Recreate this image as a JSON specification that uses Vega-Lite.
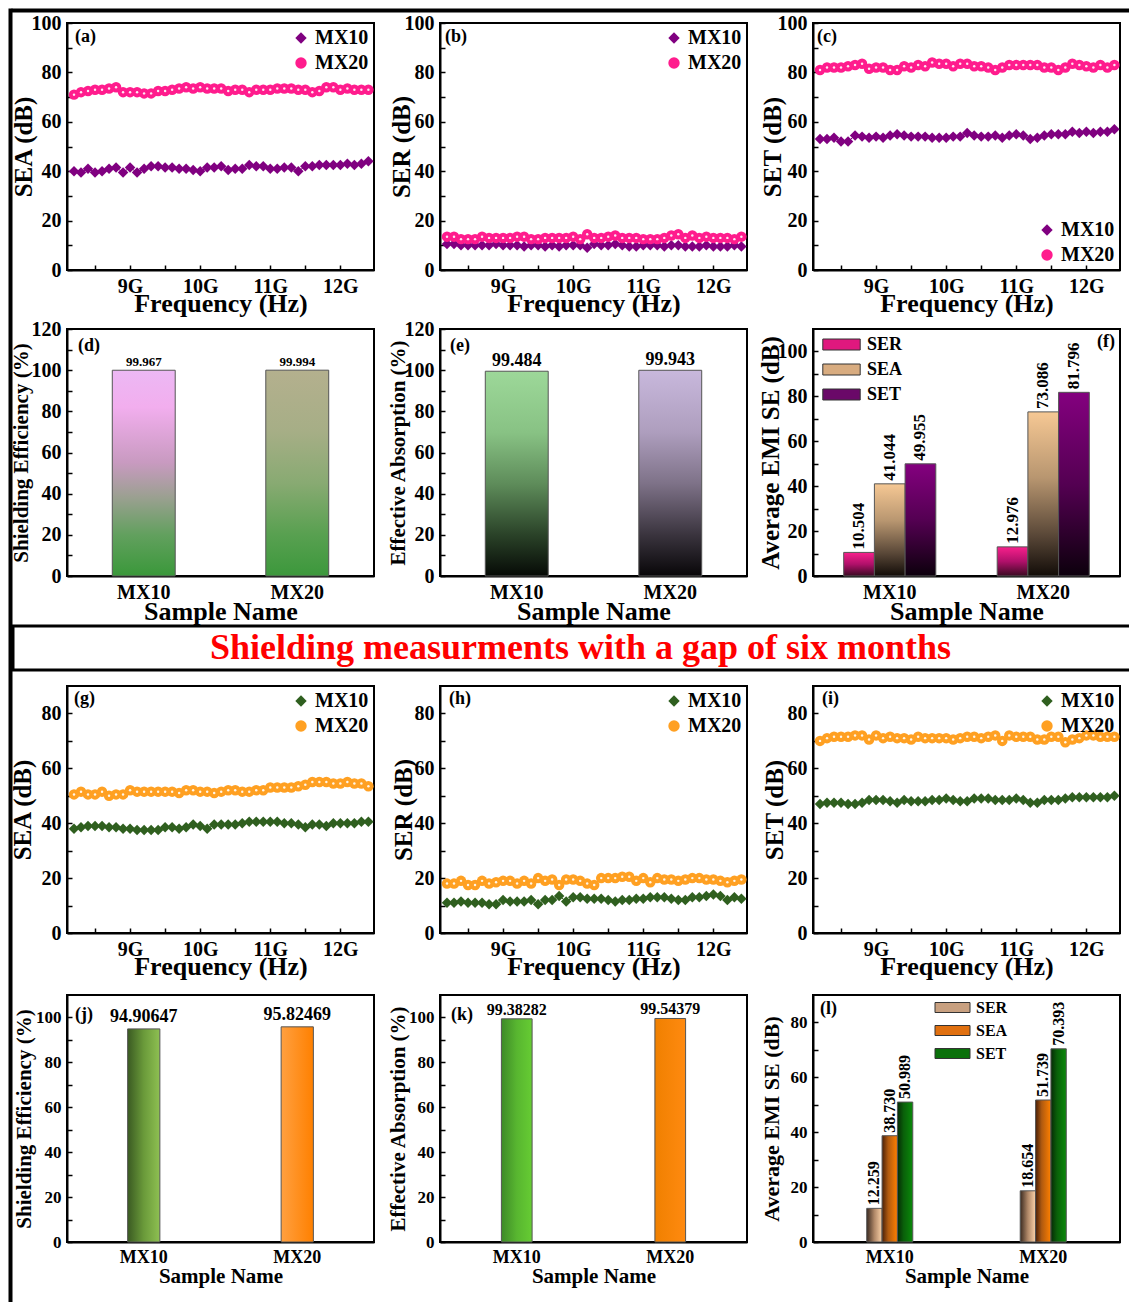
{
"$schema":"https://vega.github.io/schema/vega-lite/v6.json",
"background":"white",
"padding":{"left":8,"top":3,"right":0,"bottom":0},
"config":{
 "font":"Liberation Serif",
 "view":{"stroke":"black","strokeWidth":2},
 "axis":{"labelFont":"Liberation Serif","titleFont":"Liberation Serif","labelFontWeight":"bold","titleFontWeight":"bold","labelColor":"black","titleColor":"black","domainColor":"black","domainWidth":2,"tickColor":"black","tickWidth":1.5,"tickSize":-5,"labelPadding":11,"grid":false,"labelOverlap":false,"labelFlush":false},
 "legend":{"labelFont":"Liberation Serif","labelFontWeight":"bold","labelColor":"black","labelFontSize":20,"symbolSize":130,"rowPadding":5,"padding":2,"offset":3,"symbolStrokeWidth":0},
 "title":{"font":"Liberation Serif","fontSize":18,"fontWeight":"bold","color":"black","anchor":"start","frame":"group"},
 "text":{"font":"Liberation Serif","fontWeight":"bold","color":"black"}
},
"datasets":{
"a":[{"f":8.2,"s":"MX10","v":40},{"f":8.3,"s":"MX10","v":39.5},{"f":8.4,"s":"MX10","v":41},{"f":8.5,"s":"MX10","v":39.5},{"f":8.6,"s":"MX10","v":40},{"f":8.7,"s":"MX10","v":41},{"f":8.8,"s":"MX10","v":41.5},{"f":8.9,"s":"MX10","v":39.5},{"f":9,"s":"MX10","v":41.5},{"f":9.1,"s":"MX10","v":39.5},{"f":9.2,"s":"MX10","v":41},{"f":9.3,"s":"MX10","v":42},{"f":9.4,"s":"MX10","v":42},{"f":9.5,"s":"MX10","v":41.5},{"f":9.6,"s":"MX10","v":41.5},{"f":9.7,"s":"MX10","v":41},{"f":9.8,"s":"MX10","v":41},{"f":9.9,"s":"MX10","v":40.5},{"f":10,"s":"MX10","v":40},{"f":10.1,"s":"MX10","v":41.5},{"f":10.2,"s":"MX10","v":41.5},{"f":10.3,"s":"MX10","v":42},{"f":10.4,"s":"MX10","v":40.5},{"f":10.5,"s":"MX10","v":41},{"f":10.6,"s":"MX10","v":41},{"f":10.7,"s":"MX10","v":42.5},{"f":10.8,"s":"MX10","v":42},{"f":10.9,"s":"MX10","v":42},{"f":11,"s":"MX10","v":41},{"f":11.1,"s":"MX10","v":41},{"f":11.2,"s":"MX10","v":41.5},{"f":11.3,"s":"MX10","v":41.5},{"f":11.4,"s":"MX10","v":40},{"f":11.5,"s":"MX10","v":42},{"f":11.6,"s":"MX10","v":42},{"f":11.7,"s":"MX10","v":42.5},{"f":11.8,"s":"MX10","v":42.5},{"f":11.9,"s":"MX10","v":42.5},{"f":12,"s":"MX10","v":42.5},{"f":12.1,"s":"MX10","v":43},{"f":12.2,"s":"MX10","v":42.5},{"f":12.3,"s":"MX10","v":43},{"f":12.4,"s":"MX10","v":44},
{"f":8.2,"s":"MX20","v":71},{"f":8.3,"s":"MX20","v":72},{"f":8.4,"s":"MX20","v":72.5},{"f":8.5,"s":"MX20","v":73},{"f":8.6,"s":"MX20","v":73},{"f":8.7,"s":"MX20","v":73.5},{"f":8.8,"s":"MX20","v":74},{"f":8.9,"s":"MX20","v":72},{"f":9,"s":"MX20","v":72},{"f":9.1,"s":"MX20","v":72},{"f":9.2,"s":"MX20","v":71.5},{"f":9.3,"s":"MX20","v":71.5},{"f":9.4,"s":"MX20","v":72.5},{"f":9.5,"s":"MX20","v":72.5},{"f":9.6,"s":"MX20","v":73},{"f":9.7,"s":"MX20","v":73.5},{"f":9.8,"s":"MX20","v":74},{"f":9.9,"s":"MX20","v":73.5},{"f":10,"s":"MX20","v":74},{"f":10.1,"s":"MX20","v":73.5},{"f":10.2,"s":"MX20","v":73.5},{"f":10.3,"s":"MX20","v":73.5},{"f":10.4,"s":"MX20","v":72.5},{"f":10.5,"s":"MX20","v":73},{"f":10.6,"s":"MX20","v":73},{"f":10.7,"s":"MX20","v":72},{"f":10.8,"s":"MX20","v":73},{"f":10.9,"s":"MX20","v":73},{"f":11,"s":"MX20","v":73},{"f":11.1,"s":"MX20","v":73.5},{"f":11.2,"s":"MX20","v":73.5},{"f":11.3,"s":"MX20","v":73.5},{"f":11.4,"s":"MX20","v":73},{"f":11.5,"s":"MX20","v":73},{"f":11.6,"s":"MX20","v":72},{"f":11.7,"s":"MX20","v":72.5},{"f":11.8,"s":"MX20","v":74},{"f":11.9,"s":"MX20","v":74},{"f":12,"s":"MX20","v":73},{"f":12.1,"s":"MX20","v":73.5},{"f":12.2,"s":"MX20","v":73},{"f":12.3,"s":"MX20","v":73},{"f":12.4,"s":"MX20","v":73}],
"b":[{"f":8.2,"s":"MX10","v":10.5},{"f":8.3,"s":"MX10","v":10.5},{"f":8.4,"s":"MX10","v":10},{"f":8.5,"s":"MX10","v":10},{"f":8.6,"s":"MX10","v":10},{"f":8.7,"s":"MX10","v":10},{"f":8.8,"s":"MX10","v":10},{"f":8.9,"s":"MX10","v":10.5},{"f":9,"s":"MX10","v":10},{"f":9.1,"s":"MX10","v":10},{"f":9.2,"s":"MX10","v":10},{"f":9.3,"s":"MX10","v":9.5},{"f":9.4,"s":"MX10","v":10},{"f":9.5,"s":"MX10","v":10},{"f":9.6,"s":"MX10","v":9.5},{"f":9.7,"s":"MX10","v":10},{"f":9.8,"s":"MX10","v":9.5},{"f":9.9,"s":"MX10","v":10},{"f":10,"s":"MX10","v":10},{"f":10.1,"s":"MX10","v":10},{"f":10.2,"s":"MX10","v":9},{"f":10.3,"s":"MX10","v":10.5},{"f":10.4,"s":"MX10","v":10},{"f":10.5,"s":"MX10","v":10},{"f":10.6,"s":"MX10","v":10.5},{"f":10.7,"s":"MX10","v":10},{"f":10.8,"s":"MX10","v":9.5},{"f":10.9,"s":"MX10","v":9.5},{"f":11,"s":"MX10","v":10},{"f":11.1,"s":"MX10","v":10},{"f":11.2,"s":"MX10","v":10},{"f":11.3,"s":"MX10","v":9.5},{"f":11.4,"s":"MX10","v":10},{"f":11.5,"s":"MX10","v":10},{"f":11.6,"s":"MX10","v":9.5},{"f":11.7,"s":"MX10","v":9.5},{"f":11.8,"s":"MX10","v":9.5},{"f":11.9,"s":"MX10","v":10},{"f":12,"s":"MX10","v":9.5},{"f":12.1,"s":"MX10","v":9.5},{"f":12.2,"s":"MX10","v":9.5},{"f":12.3,"s":"MX10","v":10},{"f":12.4,"s":"MX10","v":9.5},
{"f":8.2,"s":"MX20","v":13.5},{"f":8.3,"s":"MX20","v":13.5},{"f":8.4,"s":"MX20","v":12.5},{"f":8.5,"s":"MX20","v":12.5},{"f":8.6,"s":"MX20","v":12.5},{"f":8.7,"s":"MX20","v":13.5},{"f":8.8,"s":"MX20","v":13},{"f":8.9,"s":"MX20","v":13},{"f":9,"s":"MX20","v":13},{"f":9.1,"s":"MX20","v":13},{"f":9.2,"s":"MX20","v":13.5},{"f":9.3,"s":"MX20","v":13.5},{"f":9.4,"s":"MX20","v":12.5},{"f":9.5,"s":"MX20","v":12.5},{"f":9.6,"s":"MX20","v":13},{"f":9.7,"s":"MX20","v":13},{"f":9.8,"s":"MX20","v":13},{"f":9.9,"s":"MX20","v":13},{"f":10,"s":"MX20","v":13.5},{"f":10.1,"s":"MX20","v":12.5},{"f":10.2,"s":"MX20","v":14.5},{"f":10.3,"s":"MX20","v":13},{"f":10.4,"s":"MX20","v":13},{"f":10.5,"s":"MX20","v":13.5},{"f":10.6,"s":"MX20","v":14},{"f":10.7,"s":"MX20","v":13},{"f":10.8,"s":"MX20","v":13},{"f":10.9,"s":"MX20","v":13},{"f":11,"s":"MX20","v":12.5},{"f":11.1,"s":"MX20","v":12.5},{"f":11.2,"s":"MX20","v":12.5},{"f":11.3,"s":"MX20","v":13},{"f":11.4,"s":"MX20","v":14},{"f":11.5,"s":"MX20","v":14.5},{"f":11.6,"s":"MX20","v":13},{"f":11.7,"s":"MX20","v":14},{"f":11.8,"s":"MX20","v":13},{"f":11.9,"s":"MX20","v":13.5},{"f":12,"s":"MX20","v":13},{"f":12.1,"s":"MX20","v":13},{"f":12.2,"s":"MX20","v":13},{"f":12.3,"s":"MX20","v":12.5},{"f":12.4,"s":"MX20","v":13.5}],
"c":[{"f":8.2,"s":"MX10","v":53},{"f":8.3,"s":"MX10","v":53},{"f":8.4,"s":"MX10","v":53.5},{"f":8.5,"s":"MX10","v":52},{"f":8.6,"s":"MX10","v":52},{"f":8.7,"s":"MX10","v":54.5},{"f":8.8,"s":"MX10","v":54},{"f":8.9,"s":"MX10","v":53.5},{"f":9,"s":"MX10","v":54},{"f":9.1,"s":"MX10","v":53.5},{"f":9.2,"s":"MX10","v":54.5},{"f":9.3,"s":"MX10","v":55},{"f":9.4,"s":"MX10","v":54.5},{"f":9.5,"s":"MX10","v":54},{"f":9.6,"s":"MX10","v":54},{"f":9.7,"s":"MX10","v":54},{"f":9.8,"s":"MX10","v":53.5},{"f":9.9,"s":"MX10","v":53.5},{"f":10,"s":"MX10","v":53.5},{"f":10.1,"s":"MX10","v":54},{"f":10.2,"s":"MX10","v":54},{"f":10.3,"s":"MX10","v":55.5},{"f":10.4,"s":"MX10","v":54.5},{"f":10.5,"s":"MX10","v":54},{"f":10.6,"s":"MX10","v":54},{"f":10.7,"s":"MX10","v":54.5},{"f":10.8,"s":"MX10","v":53.5},{"f":10.9,"s":"MX10","v":54.5},{"f":11,"s":"MX10","v":55},{"f":11.1,"s":"MX10","v":54.5},{"f":11.2,"s":"MX10","v":53},{"f":11.3,"s":"MX10","v":53.5},{"f":11.4,"s":"MX10","v":54.5},{"f":11.5,"s":"MX10","v":55},{"f":11.6,"s":"MX10","v":55},{"f":11.7,"s":"MX10","v":55},{"f":11.8,"s":"MX10","v":56},{"f":11.9,"s":"MX10","v":55.5},{"f":12,"s":"MX10","v":56},{"f":12.1,"s":"MX10","v":55.5},{"f":12.2,"s":"MX10","v":56},{"f":12.3,"s":"MX10","v":56},{"f":12.4,"s":"MX10","v":57},
{"f":8.2,"s":"MX20","v":81},{"f":8.3,"s":"MX20","v":82},{"f":8.4,"s":"MX20","v":82},{"f":8.5,"s":"MX20","v":82},{"f":8.6,"s":"MX20","v":82.5},{"f":8.7,"s":"MX20","v":83},{"f":8.8,"s":"MX20","v":83.5},{"f":8.9,"s":"MX20","v":81.5},{"f":9,"s":"MX20","v":82},{"f":9.1,"s":"MX20","v":82},{"f":9.2,"s":"MX20","v":81},{"f":9.3,"s":"MX20","v":81},{"f":9.4,"s":"MX20","v":82.5},{"f":9.5,"s":"MX20","v":82},{"f":9.6,"s":"MX20","v":83},{"f":9.7,"s":"MX20","v":82.5},{"f":9.8,"s":"MX20","v":84},{"f":9.9,"s":"MX20","v":83.5},{"f":10,"s":"MX20","v":83.5},{"f":10.1,"s":"MX20","v":82.5},{"f":10.2,"s":"MX20","v":83.5},{"f":10.3,"s":"MX20","v":83.5},{"f":10.4,"s":"MX20","v":82.5},{"f":10.5,"s":"MX20","v":82.5},{"f":10.6,"s":"MX20","v":82},{"f":10.7,"s":"MX20","v":81},{"f":10.8,"s":"MX20","v":82},{"f":10.9,"s":"MX20","v":83},{"f":11,"s":"MX20","v":83},{"f":11.1,"s":"MX20","v":83},{"f":11.2,"s":"MX20","v":83},{"f":11.3,"s":"MX20","v":83},{"f":11.4,"s":"MX20","v":82},{"f":11.5,"s":"MX20","v":82},{"f":11.6,"s":"MX20","v":81},{"f":11.7,"s":"MX20","v":82},{"f":11.8,"s":"MX20","v":83.5},{"f":11.9,"s":"MX20","v":83},{"f":12,"s":"MX20","v":82.5},{"f":12.1,"s":"MX20","v":82},{"f":12.2,"s":"MX20","v":83},{"f":12.3,"s":"MX20","v":82},{"f":12.4,"s":"MX20","v":83}],
"g":[{"f":8.2,"s":"MX10","v":38},{"f":8.3,"s":"MX10","v":38.5},{"f":8.4,"s":"MX10","v":39},{"f":8.5,"s":"MX10","v":39},{"f":8.6,"s":"MX10","v":39},{"f":8.7,"s":"MX10","v":38.5},{"f":8.8,"s":"MX10","v":38.5},{"f":8.9,"s":"MX10","v":38},{"f":9,"s":"MX10","v":38},{"f":9.1,"s":"MX10","v":37.5},{"f":9.2,"s":"MX10","v":37.5},{"f":9.3,"s":"MX10","v":37.5},{"f":9.4,"s":"MX10","v":37.5},{"f":9.5,"s":"MX10","v":38.5},{"f":9.6,"s":"MX10","v":38.5},{"f":9.7,"s":"MX10","v":38},{"f":9.8,"s":"MX10","v":38.5},{"f":9.9,"s":"MX10","v":39.5},{"f":10,"s":"MX10","v":39},{"f":10.1,"s":"MX10","v":38},{"f":10.2,"s":"MX10","v":39.5},{"f":10.3,"s":"MX10","v":39.5},{"f":10.4,"s":"MX10","v":39.5},{"f":10.5,"s":"MX10","v":39.5},{"f":10.6,"s":"MX10","v":40},{"f":10.7,"s":"MX10","v":40.5},{"f":10.8,"s":"MX10","v":40.5},{"f":10.9,"s":"MX10","v":40.5},{"f":11,"s":"MX10","v":40.5},{"f":11.1,"s":"MX10","v":40.5},{"f":11.2,"s":"MX10","v":40},{"f":11.3,"s":"MX10","v":40},{"f":11.4,"s":"MX10","v":39.5},{"f":11.5,"s":"MX10","v":38.5},{"f":11.6,"s":"MX10","v":39.5},{"f":11.7,"s":"MX10","v":39.5},{"f":11.8,"s":"MX10","v":39},{"f":11.9,"s":"MX10","v":40},{"f":12,"s":"MX10","v":40},{"f":12.1,"s":"MX10","v":40},{"f":12.2,"s":"MX10","v":40},{"f":12.3,"s":"MX10","v":40.5},{"f":12.4,"s":"MX10","v":40.5},
{"f":8.2,"s":"MX20","v":50.5},{"f":8.3,"s":"MX20","v":51.5},{"f":8.4,"s":"MX20","v":50.5},{"f":8.5,"s":"MX20","v":50.5},{"f":8.6,"s":"MX20","v":51.5},{"f":8.7,"s":"MX20","v":50},{"f":8.8,"s":"MX20","v":50.5},{"f":8.9,"s":"MX20","v":50.5},{"f":9,"s":"MX20","v":52},{"f":9.1,"s":"MX20","v":51.5},{"f":9.2,"s":"MX20","v":51.5},{"f":9.3,"s":"MX20","v":51.5},{"f":9.4,"s":"MX20","v":51.5},{"f":9.5,"s":"MX20","v":51.5},{"f":9.6,"s":"MX20","v":51.5},{"f":9.7,"s":"MX20","v":51},{"f":9.8,"s":"MX20","v":52},{"f":9.9,"s":"MX20","v":52},{"f":10,"s":"MX20","v":51.5},{"f":10.1,"s":"MX20","v":51.5},{"f":10.2,"s":"MX20","v":51},{"f":10.3,"s":"MX20","v":51.5},{"f":10.4,"s":"MX20","v":52},{"f":10.5,"s":"MX20","v":52},{"f":10.6,"s":"MX20","v":51.5},{"f":10.7,"s":"MX20","v":51.5},{"f":10.8,"s":"MX20","v":52},{"f":10.9,"s":"MX20","v":52},{"f":11,"s":"MX20","v":53},{"f":11.1,"s":"MX20","v":53},{"f":11.2,"s":"MX20","v":53},{"f":11.3,"s":"MX20","v":53},{"f":11.4,"s":"MX20","v":53.5},{"f":11.5,"s":"MX20","v":54},{"f":11.6,"s":"MX20","v":55},{"f":11.7,"s":"MX20","v":55},{"f":11.8,"s":"MX20","v":55},{"f":11.9,"s":"MX20","v":54.5},{"f":12,"s":"MX20","v":54.5},{"f":12.1,"s":"MX20","v":55},{"f":12.2,"s":"MX20","v":54.5},{"f":12.3,"s":"MX20","v":54.5},{"f":12.4,"s":"MX20","v":53.5}],
"h":[{"f":8.2,"s":"MX10","v":11},{"f":8.3,"s":"MX10","v":11},{"f":8.4,"s":"MX10","v":11.5},{"f":8.5,"s":"MX10","v":11},{"f":8.6,"s":"MX10","v":11},{"f":8.7,"s":"MX10","v":11},{"f":8.8,"s":"MX10","v":10.5},{"f":8.9,"s":"MX10","v":10.5},{"f":9,"s":"MX10","v":12},{"f":9.1,"s":"MX10","v":11.5},{"f":9.2,"s":"MX10","v":11.5},{"f":9.3,"s":"MX10","v":11.5},{"f":9.4,"s":"MX10","v":12},{"f":9.5,"s":"MX10","v":10.5},{"f":9.6,"s":"MX10","v":12},{"f":9.7,"s":"MX10","v":12},{"f":9.8,"s":"MX10","v":13.5},{"f":9.9,"s":"MX10","v":11.5},{"f":10,"s":"MX10","v":13},{"f":10.1,"s":"MX10","v":13},{"f":10.2,"s":"MX10","v":12.5},{"f":10.3,"s":"MX10","v":12.5},{"f":10.4,"s":"MX10","v":12.5},{"f":10.5,"s":"MX10","v":12},{"f":10.6,"s":"MX10","v":11.5},{"f":10.7,"s":"MX10","v":12},{"f":10.8,"s":"MX10","v":12},{"f":10.9,"s":"MX10","v":12.5},{"f":11,"s":"MX10","v":12.5},{"f":11.1,"s":"MX10","v":13},{"f":11.2,"s":"MX10","v":13},{"f":11.3,"s":"MX10","v":13},{"f":11.4,"s":"MX10","v":12.5},{"f":11.5,"s":"MX10","v":12},{"f":11.6,"s":"MX10","v":12},{"f":11.7,"s":"MX10","v":13},{"f":11.8,"s":"MX10","v":13},{"f":11.9,"s":"MX10","v":13.5},{"f":12,"s":"MX10","v":14},{"f":12.1,"s":"MX10","v":13.5},{"f":12.2,"s":"MX10","v":12},{"f":12.3,"s":"MX10","v":13},{"f":12.4,"s":"MX10","v":12.5},
{"f":8.2,"s":"MX20","v":18},{"f":8.3,"s":"MX20","v":18},{"f":8.4,"s":"MX20","v":19},{"f":8.5,"s":"MX20","v":17.5},{"f":8.6,"s":"MX20","v":17.5},{"f":8.7,"s":"MX20","v":19},{"f":8.8,"s":"MX20","v":18},{"f":8.9,"s":"MX20","v":18.5},{"f":9,"s":"MX20","v":19},{"f":9.1,"s":"MX20","v":19},{"f":9.2,"s":"MX20","v":18},{"f":9.3,"s":"MX20","v":19},{"f":9.4,"s":"MX20","v":18},{"f":9.5,"s":"MX20","v":20},{"f":9.6,"s":"MX20","v":19},{"f":9.7,"s":"MX20","v":19.5},{"f":9.8,"s":"MX20","v":17.5},{"f":9.9,"s":"MX20","v":19.5},{"f":10,"s":"MX20","v":19.5},{"f":10.1,"s":"MX20","v":19},{"f":10.2,"s":"MX20","v":18},{"f":10.3,"s":"MX20","v":17.5},{"f":10.4,"s":"MX20","v":20},{"f":10.5,"s":"MX20","v":20},{"f":10.6,"s":"MX20","v":20},{"f":10.7,"s":"MX20","v":20.5},{"f":10.8,"s":"MX20","v":20.5},{"f":10.9,"s":"MX20","v":19},{"f":11,"s":"MX20","v":20},{"f":11.1,"s":"MX20","v":18.5},{"f":11.2,"s":"MX20","v":20},{"f":11.3,"s":"MX20","v":19.5},{"f":11.4,"s":"MX20","v":19.5},{"f":11.5,"s":"MX20","v":19},{"f":11.6,"s":"MX20","v":19.5},{"f":11.7,"s":"MX20","v":20},{"f":11.8,"s":"MX20","v":20},{"f":11.9,"s":"MX20","v":19.5},{"f":12,"s":"MX20","v":19.5},{"f":12.1,"s":"MX20","v":19},{"f":12.2,"s":"MX20","v":18.5},{"f":12.3,"s":"MX20","v":19},{"f":12.4,"s":"MX20","v":19.5}],
"i":[{"f":8.2,"s":"MX10","v":47},{"f":8.3,"s":"MX10","v":47.5},{"f":8.4,"s":"MX10","v":47.5},{"f":8.5,"s":"MX10","v":47.5},{"f":8.6,"s":"MX10","v":47},{"f":8.7,"s":"MX10","v":47},{"f":8.8,"s":"MX10","v":47.5},{"f":8.9,"s":"MX10","v":48.5},{"f":9,"s":"MX10","v":48.5},{"f":9.1,"s":"MX10","v":48.5},{"f":9.2,"s":"MX10","v":48},{"f":9.3,"s":"MX10","v":47.5},{"f":9.4,"s":"MX10","v":48.5},{"f":9.5,"s":"MX10","v":48},{"f":9.6,"s":"MX10","v":48},{"f":9.7,"s":"MX10","v":48},{"f":9.8,"s":"MX10","v":48.5},{"f":9.9,"s":"MX10","v":48.5},{"f":10,"s":"MX10","v":49},{"f":10.1,"s":"MX10","v":48.5},{"f":10.2,"s":"MX10","v":48},{"f":10.3,"s":"MX10","v":48},{"f":10.4,"s":"MX10","v":49},{"f":10.5,"s":"MX10","v":49},{"f":10.6,"s":"MX10","v":49},{"f":10.7,"s":"MX10","v":48.5},{"f":10.8,"s":"MX10","v":48.5},{"f":10.9,"s":"MX10","v":48.5},{"f":11,"s":"MX10","v":49},{"f":11.1,"s":"MX10","v":48.5},{"f":11.2,"s":"MX10","v":47.5},{"f":11.3,"s":"MX10","v":47.5},{"f":11.4,"s":"MX10","v":48.5},{"f":11.5,"s":"MX10","v":48.5},{"f":11.6,"s":"MX10","v":48.5},{"f":11.7,"s":"MX10","v":49},{"f":11.8,"s":"MX10","v":49.5},{"f":11.9,"s":"MX10","v":49.5},{"f":12,"s":"MX10","v":49.5},{"f":12.1,"s":"MX10","v":49.5},{"f":12.2,"s":"MX10","v":49.5},{"f":12.3,"s":"MX10","v":49.5},{"f":12.4,"s":"MX10","v":50},
{"f":8.2,"s":"MX20","v":70},{"f":8.3,"s":"MX20","v":71},{"f":8.4,"s":"MX20","v":71.5},{"f":8.5,"s":"MX20","v":71.5},{"f":8.6,"s":"MX20","v":71.5},{"f":8.7,"s":"MX20","v":72},{"f":8.8,"s":"MX20","v":72},{"f":8.9,"s":"MX20","v":70.5},{"f":9,"s":"MX20","v":72},{"f":9.1,"s":"MX20","v":71},{"f":9.2,"s":"MX20","v":71.5},{"f":9.3,"s":"MX20","v":71},{"f":9.4,"s":"MX20","v":71},{"f":9.5,"s":"MX20","v":70.5},{"f":9.6,"s":"MX20","v":71.5},{"f":9.7,"s":"MX20","v":71},{"f":9.8,"s":"MX20","v":71},{"f":9.9,"s":"MX20","v":71},{"f":10,"s":"MX20","v":71},{"f":10.1,"s":"MX20","v":70.5},{"f":10.2,"s":"MX20","v":71},{"f":10.3,"s":"MX20","v":71.5},{"f":10.4,"s":"MX20","v":71.5},{"f":10.5,"s":"MX20","v":71},{"f":10.6,"s":"MX20","v":71.5},{"f":10.7,"s":"MX20","v":72},{"f":10.8,"s":"MX20","v":70},{"f":10.9,"s":"MX20","v":72},{"f":11,"s":"MX20","v":71.5},{"f":11.1,"s":"MX20","v":71.5},{"f":11.2,"s":"MX20","v":71.5},{"f":11.3,"s":"MX20","v":70.5},{"f":11.4,"s":"MX20","v":70.5},{"f":11.5,"s":"MX20","v":71.5},{"f":11.6,"s":"MX20","v":71.5},{"f":11.7,"s":"MX20","v":69.5},{"f":11.8,"s":"MX20","v":70.5},{"f":11.9,"s":"MX20","v":71},{"f":12,"s":"MX20","v":72},{"f":12.1,"s":"MX20","v":72},{"f":12.2,"s":"MX20","v":71.5},{"f":12.3,"s":"MX20","v":71.5},{"f":12.4,"s":"MX20","v":71.5}],
"d":[{"sample":"MX10","v":99.967},{"sample":"MX20","v":99.994}],
"e":[{"sample":"MX10","v":99.484},{"sample":"MX20","v":99.943}],
"f":[{"sample":"MX10","type":"R","v":10.504},{"sample":"MX10","type":"A","v":41.044},{"sample":"MX10","type":"T","v":49.955},{"sample":"MX20","type":"R","v":12.976},{"sample":"MX20","type":"A","v":73.086},{"sample":"MX20","type":"T","v":81.796}],
"j":[{"sample":"MX10","v":94.90647},{"sample":"MX20","v":95.82469}],
"k":[{"sample":"MX10","v":99.38282},{"sample":"MX20","v":99.54379}],
"l":[{"sample":"MX10","type":"R","v":12.259},{"sample":"MX10","type":"A","v":38.730},{"sample":"MX10","type":"T","v":50.989},{"sample":"MX20","type":"R","v":18.654},{"sample":"MX20","type":"A","v":51.739},{"sample":"MX20","type":"T","v":70.393}],
"blank":[{"t":""}]
},
"hconcat":[
 {"width":1,"height":1292,"view":{"stroke":"black","strokeWidth":3},"data":{"name":"blank"},"mark":{"type":"text"},"encoding":{"text":{"field":"t","type":"nominal"}}},
 {"vconcat":[
  {"vconcat":[
   {"vconcat":[
    {"width":1119,"height":1,"view":{"stroke":"black","strokeWidth":3},"data":{"name":"blank"},"mark":{"type":"text"},"encoding":{"text":{"field":"t","type":"nominal"}}},
    {"hconcat":[
     {"width":1,"height":1,"view":{"stroke":"transparent","strokeWidth":3},"data":{"name":"blank"},"mark":{"type":"text"},"encoding":{"text":{"field":"t","type":"nominal"}}},
     {"vconcat":[
      {"hconcat":[
       {"width":307,"height":247,"title":{"text":"(a)","offset":-33,"dx":8},"data":{"name":"a"},
        "encoding":{
         "x":{"field":"f","type":"quantitative","scale":{"domain":[8.1,12.48],"nice":false,"zero":false},"axis":{"title":"Frequency (Hz)","values":[8.5,9,9.5,10,10.5,11,11.5,12],"labelExpr":"datum.value % 1 === 0 ? datum.value + 'G' : ''","labelFontSize":20,"titleFontSize":26,"titlePadding":-6}},
         "y":{"field":"v","type":"quantitative","scale":{"domain":[0,100],"nice":false},"axis":{"title":"SEA (dB)","values":[0,10,20,30,40,50,60,70,80,90,100],"labelExpr":"datum.value % 20 === 0 ? datum.label : ''","labelFontSize":20,"titleFontSize":25,"minExtent":28,"maxExtent":28,"titlePadding":3}}},
        "layer":[
         {"mark":{"type":"line","strokeWidth":1},"encoding":{"detail":{"field":"s","type":"nominal"},"color":{"condition":{"test":"datum.s === 'MX10'","value":"#800080"},"value":"#FF1C8D"}}},
         {"mark":{"type":"point","filled":true,"size":110,"opacity":1},"encoding":{"color":{"field":"s","type":"nominal","scale":{"domain":["MX10","MX20"],"range":["#800080","#FF1C8D"]},"legend":{"title":null,"orient":"top-right"}},"shape":{"field":"s","type":"nominal","scale":{"domain":["MX10","MX20"],"range":["diamond","circle"]},"legend":{"title":null,"orient":"top-right"}}}},
         {"transform":[{"filter":"datum.s === 'MX20'"}],"mark":{"type":"point","filled":true,"size":6,"color":"white","opacity":0.9}}
        ]},
       {"width":307,"height":247,"title":{"text":"(b)","offset":-33,"dx":5},"data":{"name":"b"},
        "encoding":{
         "x":{"field":"f","type":"quantitative","scale":{"domain":[8.1,12.48],"nice":false,"zero":false},"axis":{"title":"Frequency (Hz)","values":[8.5,9,9.5,10,10.5,11,11.5,12],"labelExpr":"datum.value % 1 === 0 ? datum.value + 'G' : ''","labelFontSize":20,"titleFontSize":26,"titlePadding":-6}},
         "y":{"field":"v","type":"quantitative","scale":{"domain":[0,100],"nice":false},"axis":{"title":"SER (dB)","values":[0,10,20,30,40,50,60,70,80,90,100],"labelExpr":"datum.value % 20 === 0 ? datum.label : ''","labelFontSize":20,"titleFontSize":25,"minExtent":26,"maxExtent":26,"titlePadding":0}}},
        "layer":[
         {"mark":{"type":"line","strokeWidth":1},"encoding":{"detail":{"field":"s","type":"nominal"},"color":{"condition":{"test":"datum.s === 'MX10'","value":"#800080"},"value":"#FF1C8D"}}},
         {"mark":{"type":"point","filled":true,"size":110,"opacity":1},"encoding":{"color":{"field":"s","type":"nominal","scale":{"domain":["MX10","MX20"],"range":["#800080","#FF1C8D"]},"legend":{"title":null,"orient":"top-right"}},"shape":{"field":"s","type":"nominal","scale":{"domain":["MX10","MX20"],"range":["diamond","circle"]},"legend":{"title":null,"orient":"top-right"}}}},
         {"transform":[{"filter":"datum.s === 'MX20'"}],"mark":{"type":"point","filled":true,"size":6,"color":"white","opacity":0.9}}
        ]},
       {"width":307,"height":247,"title":{"text":"(c)","offset":-33,"dx":4},"data":{"name":"c"},
        "encoding":{
         "x":{"field":"f","type":"quantitative","scale":{"domain":[8.1,12.48],"nice":false,"zero":false},"axis":{"title":"Frequency (Hz)","values":[8.5,9,9.5,10,10.5,11,11.5,12],"labelExpr":"datum.value % 1 === 0 ? datum.value + 'G' : ''","labelFontSize":20,"titleFontSize":26,"titlePadding":-6}},
         "y":{"field":"v","type":"quantitative","scale":{"domain":[0,100],"nice":false},"axis":{"title":"SET (dB)","values":[0,10,20,30,40,50,60,70,80,90,100],"labelExpr":"datum.value % 20 === 0 ? datum.label : ''","labelFontSize":20,"titleFontSize":25,"minExtent":28,"maxExtent":28,"titlePadding":0}}},
        "layer":[
         {"mark":{"type":"line","strokeWidth":1},"encoding":{"detail":{"field":"s","type":"nominal"},"color":{"condition":{"test":"datum.s === 'MX10'","value":"#800080"},"value":"#FF1C8D"}}},
         {"mark":{"type":"point","filled":true,"size":110,"opacity":1},"encoding":{"color":{"field":"s","type":"nominal","scale":{"domain":["MX10","MX20"],"range":["#800080","#FF1C8D"]},"legend":{"title":null,"orient":"bottom-right"}},"shape":{"field":"s","type":"nominal","scale":{"domain":["MX10","MX20"],"range":["diamond","circle"]},"legend":{"title":null,"orient":"bottom-right"}}}},
         {"transform":[{"filter":"datum.s === 'MX20'"}],"mark":{"type":"point","filled":true,"size":6,"color":"white","opacity":0.9}}
        ]}
      ],"spacing":66,"bounds":"flush","resolve":{"scale":{"color":"independent","shape":"independent","xOffset":"independent"},"legend":{"color":"independent","shape":"independent"}}},
      {"hconcat":[
       {"width":307,"height":247,"title":{"text":"(d)","offset":-36,"dx":11},"data":{"name":"d"},
        "encoding":{
         "x":{"field":"sample","type":"nominal","scale":{"domain":["MX10","MX20"],"paddingInner":0,"paddingOuter":0},"axis":{"title":"Sample Name","labelAngle":0,"labelFontSize":20,"titleFontSize":26,"titlePadding":-4}},
         "y":{"field":"v","type":"quantitative","scale":{"domain":[0,120],"nice":false},"axis":{"title":"Shielding Efficiency (%)","values":[0,10,20,30,40,50,60,70,80,90,100,110,120],"labelExpr":"datum.value % 20 === 0 ? datum.label : ''","labelFontSize":20,"titleFontSize":21,"minExtent":33,"maxExtent":33,"titlePadding":3}}},
        "layer":[
         {"transform":[{"filter":"datum.sample === 'MX10'"}],"mark":{"type":"bar","width":{"band":0.41},"stroke":"#555555","strokeWidth":1,"color":{"gradient":"linear","x1":0,"y1":0,"x2":0,"y2":1,"stops":[{"offset":0,"color":"#ECB8F4"},{"offset":0.18,"color":"#F2AEEE"},{"offset":0.45,"color":"#C89AC0"},{"offset":0.62,"color":"#9AA090"},{"offset":0.8,"color":"#62A05E"},{"offset":1,"color":"#3A983A"}]}}},
         {"transform":[{"filter":"datum.sample === 'MX20'"}],"mark":{"type":"bar","width":{"band":0.41},"stroke":"#555555","strokeWidth":1,"color":{"gradient":"linear","x1":0,"y1":0,"x2":0,"y2":1,"stops":[{"offset":0,"color":"#B4B08E"},{"offset":0.3,"color":"#A6AE86"},{"offset":0.55,"color":"#88AA72"},{"offset":0.8,"color":"#58A050"},{"offset":1,"color":"#3C983C"}]}}},
         {"mark":{"type":"text","baseline":"bottom","dy":-1,"fontSize":13},"encoding":{"text":{"field":"v","type":"quantitative","format":".3f"}}}
        ]},
       {"width":307,"height":247,"title":{"text":"(e)","offset":-36,"dx":10},"data":{"name":"e"},
        "encoding":{
         "x":{"field":"sample","type":"nominal","scale":{"domain":["MX10","MX20"],"paddingInner":0,"paddingOuter":0},"axis":{"title":"Sample Name","labelAngle":0,"labelFontSize":20,"titleFontSize":26,"titlePadding":-4}},
         "y":{"field":"v","type":"quantitative","scale":{"domain":[0,120],"nice":false},"axis":{"title":"Effective Absorption (%)","values":[0,10,20,30,40,50,60,70,80,90,100,110,120],"labelExpr":"datum.value % 20 === 0 ? datum.label : ''","labelFontSize":20,"titleFontSize":21,"minExtent":32,"maxExtent":32,"titlePadding":0}}},
        "layer":[
         {"transform":[{"filter":"datum.sample === 'MX10'"}],"mark":{"type":"bar","width":{"band":0.41},"stroke":"#555555","strokeWidth":1,"color":{"gradient":"linear","x1":0,"y1":0,"x2":0,"y2":1,"stops":[{"offset":0,"color":"#9DD899"},{"offset":0.3,"color":"#88C284"},{"offset":0.55,"color":"#5E8C5A"},{"offset":0.8,"color":"#2A4228"},{"offset":1,"color":"#060A06"}]}}},
         {"transform":[{"filter":"datum.sample === 'MX20'"}],"mark":{"type":"bar","width":{"band":0.41},"stroke":"#555555","strokeWidth":1,"color":{"gradient":"linear","x1":0,"y1":0,"x2":0,"y2":1,"stops":[{"offset":0,"color":"#C8B8DC"},{"offset":0.3,"color":"#AE9EBE"},{"offset":0.55,"color":"#7E7288"},{"offset":0.8,"color":"#3A343E"},{"offset":1,"color":"#080608"}]}}},
         {"mark":{"type":"text","baseline":"bottom","dy":-1,"fontSize":18},"encoding":{"text":{"field":"v","type":"quantitative","format":".3f"}}}
        ]},
       {"width":307,"height":247,"title":{"text":"(f)","anchor":"end","offset":-22,"dx":-5},"data":{"name":"f"},
        "encoding":{
         "x":{"field":"sample","type":"nominal","scale":{"domain":["MX10","MX20"],"paddingInner":0.4,"paddingOuter":0.2},"axis":{"title":"Sample Name","labelAngle":0,"labelFontSize":20,"titleFontSize":26,"titlePadding":-4}},
         "xOffset":{"field":"type","type":"nominal","scale":{"domain":["R","A","T"],"paddingInner":0,"paddingOuter":0}},
         "y":{"field":"v","type":"quantitative","scale":{"domain":[0,110],"nice":false},"axis":{"title":"Average EMI SE (dB)","values":[0,10,20,30,40,50,60,70,80,90,100],"labelExpr":"datum.value % 20 === 0 ? datum.label : ''","labelFontSize":20,"titleFontSize":25,"minExtent":30,"maxExtent":30,"titlePadding":0}}},
        "layer":[
         {"transform":[{"filter":"datum.type === 'R'"}],"mark":{"type":"bar","stroke":"#555555","strokeWidth":1,"color":{"gradient":"linear","x1":0,"y1":0,"x2":0,"y2":1,"stops":[{"offset":0,"color":"#F8208C"},{"offset":0.5,"color":"#B0106A"},{"offset":1,"color":"#3A0A22"}]}}},
         {"transform":[{"filter":"datum.type === 'A'"}],"mark":{"type":"bar","stroke":"#555555","strokeWidth":1,"color":{"gradient":"linear","x1":0,"y1":0,"x2":0,"y2":1,"stops":[{"offset":0,"color":"#F6C894"},{"offset":0.4,"color":"#B89670"},{"offset":0.75,"color":"#5A4838"},{"offset":1,"color":"#120C08"}]}}},
         {"transform":[{"filter":"datum.type === 'T'"}],"mark":{"type":"bar","stroke":"#555555","strokeWidth":1,"color":{"gradient":"linear","x1":0,"y1":0,"x2":0,"y2":1,"stops":[{"offset":0,"color":"#84007F"},{"offset":0.5,"color":"#540052"},{"offset":1,"color":"#0C000C"}]}}},
         {"mark":{"type":"bar","opacity":0},"encoding":{"color":{"field":"type","type":"nominal","scale":{"domain":["R","A","T"],"range":["#E0187E","#D8AC80","#6A0868"]},"legend":{"title":null,"orient":"none","legendX":15,"legendY":2,"symbolType":"M-1.7,-0.5H1.7V0.5H-1.7Z","symbolSize":484,"labelOffset":14,"labelFontSize":18,"rowPadding":4,"labelExpr":"'SE' + datum.label","encode":{"symbols":{"update":{"opacity":{"value":1},"stroke":{"value":"#333333"},"strokeWidth":{"value":1}}}}}}}},
         {"mark":{"type":"text","angle":270,"align":"left","baseline":"middle","dx":3,"fontSize":17},"encoding":{"text":{"field":"v","type":"quantitative","format":".3f"}}}
        ]}
      ],"spacing":66,"bounds":"flush","resolve":{"scale":{"color":"independent","shape":"independent","xOffset":"independent"},"legend":{"color":"independent","shape":"independent"}}}
     ],"spacing":1,"resolve":{"scale":{"color":"independent","shape":"independent","xOffset":"independent"},"legend":{"color":"independent","shape":"independent"}}}
    ],"spacing":-7,"resolve":{"scale":{"color":"independent","shape":"independent","xOffset":"independent"},"legend":{"color":"independent","shape":"independent"}}}
   ],"spacing":-5,"resolve":{"scale":{"color":"independent","shape":"independent","xOffset":"independent"},"legend":{"color":"independent","shape":"independent"}}},
   {"width":1119,"height":44,"view":{"stroke":"black","strokeWidth":3},
    "data":{"values":[{"t":"Shielding measurments with a gap of six months"}]},
    "mark":{"type":"text","color":"#FF0000","fontSize":36,"fontWeight":"bold","font":"Liberation Serif","dx":8},
    "encoding":{"text":{"field":"t","type":"nominal"}}}
  ],"spacing":-1,"resolve":{"scale":{"color":"independent","shape":"independent","xOffset":"independent"},"legend":{"color":"independent","shape":"independent"}}},
  {"hconcat":[
   {"width":1,"height":1,"view":{"stroke":"transparent","strokeWidth":3},"data":{"name":"blank"},"mark":{"type":"text"},"encoding":{"text":{"field":"t","type":"nominal"}}},
   {"vconcat":[
     {"hconcat":[
      {"width":307,"height":247,"title":{"text":"(g)","offset":-22,"dx":7},"data":{"name":"g"},
       "encoding":{
        "x":{"field":"f","type":"quantitative","scale":{"domain":[8.1,12.48],"nice":false,"zero":false},"axis":{"title":"Frequency (Hz)","values":[8.5,9,9.5,10,10.5,11,11.5,12],"labelExpr":"datum.value % 1 === 0 ? datum.value + 'G' : ''","labelFontSize":20,"titleFontSize":26,"titlePadding":-6}},
        "y":{"field":"v","type":"quantitative","scale":{"domain":[0,90],"nice":false},"axis":{"title":"SEA (dB)","values":[0,10,20,30,40,50,60,70,80],"labelExpr":"datum.value % 20 === 0 ? datum.label : ''","labelFontSize":20,"titleFontSize":25,"minExtent":29,"maxExtent":29,"titlePadding":3}}},
       "layer":[
        {"mark":{"type":"line","strokeWidth":1},"encoding":{"detail":{"field":"s","type":"nominal"},"color":{"condition":{"test":"datum.s === 'MX10'","value":"#2F5F1F"},"value":"#FFA022"}}},
        {"mark":{"type":"point","filled":true,"size":110,"opacity":1},"encoding":{"color":{"field":"s","type":"nominal","scale":{"domain":["MX10","MX20"],"range":["#2F5F1F","#FFA022"]},"legend":{"title":null,"orient":"top-right"}},"shape":{"field":"s","type":"nominal","scale":{"domain":["MX10","MX20"],"range":["diamond","circle"]},"legend":{"title":null,"orient":"top-right"}}}},
        {"transform":[{"filter":"datum.s === 'MX20'"}],"mark":{"type":"point","filled":true,"size":6,"color":"white","opacity":0.9}}
       ]},
      {"width":307,"height":247,"title":{"text":"(h)","offset":-22,"dx":9},"data":{"name":"h"},
       "encoding":{
        "x":{"field":"f","type":"quantitative","scale":{"domain":[8.1,12.48],"nice":false,"zero":false},"axis":{"title":"Frequency (Hz)","values":[8.5,9,9.5,10,10.5,11,11.5,12],"labelExpr":"datum.value % 1 === 0 ? datum.value + 'G' : ''","labelFontSize":20,"titleFontSize":26,"titlePadding":-6}},
        "y":{"field":"v","type":"quantitative","scale":{"domain":[0,90],"nice":false},"axis":{"title":"SER (dB)","values":[0,10,20,30,40,50,60,70,80],"labelExpr":"datum.value % 20 === 0 ? datum.label : ''","labelFontSize":20,"titleFontSize":25,"minExtent":24,"maxExtent":24,"titlePadding":0}}},
       "layer":[
        {"mark":{"type":"line","strokeWidth":1},"encoding":{"detail":{"field":"s","type":"nominal"},"color":{"condition":{"test":"datum.s === 'MX10'","value":"#2F5F1F"},"value":"#FFA022"}}},
        {"mark":{"type":"point","filled":true,"size":110,"opacity":1},"encoding":{"color":{"field":"s","type":"nominal","scale":{"domain":["MX10","MX20"],"range":["#2F5F1F","#FFA022"]},"legend":{"title":null,"orient":"top-right"}},"shape":{"field":"s","type":"nominal","scale":{"domain":["MX10","MX20"],"range":["diamond","circle"]},"legend":{"title":null,"orient":"top-right"}}}},
        {"transform":[{"filter":"datum.s === 'MX20'"}],"mark":{"type":"point","filled":true,"size":6,"color":"white","opacity":0.9}}
       ]},
      {"width":307,"height":247,"title":{"text":"(i)","offset":-22,"dx":9},"data":{"name":"i"},
       "encoding":{
        "x":{"field":"f","type":"quantitative","scale":{"domain":[8.1,12.48],"nice":false,"zero":false},"axis":{"title":"Frequency (Hz)","values":[8.5,9,9.5,10,10.5,11,11.5,12],"labelExpr":"datum.value % 1 === 0 ? datum.value + 'G' : ''","labelFontSize":20,"titleFontSize":26,"titlePadding":-6}},
        "y":{"field":"v","type":"quantitative","scale":{"domain":[0,90],"nice":false},"axis":{"title":"SET (dB)","values":[0,10,20,30,40,50,60,70,80],"labelExpr":"datum.value % 20 === 0 ? datum.label : ''","labelFontSize":20,"titleFontSize":25,"minExtent":26,"maxExtent":26,"titlePadding":0}}},
       "layer":[
        {"mark":{"type":"line","strokeWidth":1},"encoding":{"detail":{"field":"s","type":"nominal"},"color":{"condition":{"test":"datum.s === 'MX10'","value":"#2F5F1F"},"value":"#FFA022"}}},
        {"mark":{"type":"point","filled":true,"size":110,"opacity":1},"encoding":{"color":{"field":"s","type":"nominal","scale":{"domain":["MX10","MX20"],"range":["#2F5F1F","#FFA022"]},"legend":{"title":null,"orient":"top-right"}},"shape":{"field":"s","type":"nominal","scale":{"domain":["MX10","MX20"],"range":["diamond","circle"]},"legend":{"title":null,"orient":"top-right"}}}},
        {"transform":[{"filter":"datum.s === 'MX20'"}],"mark":{"type":"point","filled":true,"size":6,"color":"white","opacity":0.9}}
       ]}
     ],"spacing":66,"bounds":"flush","resolve":{"scale":{"color":"independent","shape":"independent","xOffset":"independent"},"legend":{"color":"independent","shape":"independent"}}},
     {"hconcat":[
      {"width":307,"height":247,"title":{"text":"(j)","offset":-29,"dx":8},"data":{"name":"j"},
       "encoding":{
        "x":{"field":"sample","type":"nominal","scale":{"domain":["MX10","MX20"],"paddingInner":0,"paddingOuter":0},"axis":{"title":"Sample Name","labelAngle":0,"labelFontSize":18,"titleFontSize":21,"titlePadding":-1}},
        "y":{"field":"v","type":"quantitative","scale":{"domain":[0,110],"nice":false},"axis":{"title":"Shielding Efficiency (%)","values":[0,10,20,30,40,50,60,70,80,90,100],"labelExpr":"datum.value % 20 === 0 ? datum.label : ''","labelFontSize":17,"titleFontSize":21,"minExtent":30,"maxExtent":30,"titlePadding":3}}},
       "layer":[
        {"transform":[{"filter":"datum.sample === 'MX10'"}],"mark":{"type":"bar","width":{"band":0.21},"stroke":"#555555","strokeWidth":1,"color":{"gradient":"linear","x1":0,"y1":0,"x2":1,"y2":0,"stops":[{"offset":0,"color":"#3A5A22"},{"offset":0.5,"color":"#6A9A3A"},{"offset":1,"color":"#8EC052"}]}}},
        {"transform":[{"filter":"datum.sample === 'MX20'"}],"mark":{"type":"bar","width":{"band":0.21},"stroke":"#555555","strokeWidth":1,"color":{"gradient":"linear","x1":0,"y1":0,"x2":1,"y2":0,"stops":[{"offset":0,"color":"#FFA040"},{"offset":1,"color":"#FF8000"}]}}},
        {"mark":{"type":"text","baseline":"bottom","dy":-3,"fontSize":18},"encoding":{"text":{"field":"v","type":"quantitative","format":".5f"}}}
       ]},
      {"width":307,"height":247,"title":{"text":"(k)","offset":-29,"dx":11},"data":{"name":"k"},
       "encoding":{
        "x":{"field":"sample","type":"nominal","scale":{"domain":["MX10","MX20"],"paddingInner":0,"paddingOuter":0},"axis":{"title":"Sample Name","labelAngle":0,"labelFontSize":18,"titleFontSize":21,"titlePadding":-1}},
        "y":{"field":"v","type":"quantitative","scale":{"domain":[0,110],"nice":false},"axis":{"title":"Effective Absorption (%)","values":[0,10,20,30,40,50,60,70,80,90,100],"labelExpr":"datum.value % 20 === 0 ? datum.label : ''","labelFontSize":17,"titleFontSize":21,"minExtent":32,"maxExtent":32,"titlePadding":0}}},
       "layer":[
        {"transform":[{"filter":"datum.sample === 'MX10'"}],"mark":{"type":"bar","width":{"band":0.2},"stroke":"#555555","strokeWidth":1,"color":{"gradient":"linear","x1":0,"y1":0,"x2":1,"y2":0,"stops":[{"offset":0,"color":"#3E8A28"},{"offset":0.5,"color":"#58B630"},{"offset":1,"color":"#66CC33"}]}}},
        {"transform":[{"filter":"datum.sample === 'MX20'"}],"mark":{"type":"bar","width":{"band":0.2},"stroke":"#555555","strokeWidth":1,"color":{"gradient":"linear","x1":0,"y1":0,"x2":1,"y2":0,"stops":[{"offset":0,"color":"#F08000"},{"offset":1,"color":"#FF8A10"}]}}},
        {"mark":{"type":"text","baseline":"bottom","dy":-1,"fontSize":16},"encoding":{"text":{"field":"v","type":"quantitative","format":".5f"}}}
       ]},
      {"width":307,"height":247,"title":{"text":"(l)","offset":-23,"dx":7},"data":{"name":"l"},
       "encoding":{
        "x":{"field":"sample","type":"nominal","scale":{"domain":["MX10","MX20"],"paddingInner":0.7,"paddingOuter":0.35},"axis":{"title":"Sample Name","labelAngle":0,"labelFontSize":18,"titleFontSize":21,"titlePadding":-1}},
        "xOffset":{"field":"type","type":"nominal","scale":{"domain":["R","A","T"],"paddingInner":0,"paddingOuter":0}},
        "y":{"field":"v","type":"quantitative","scale":{"domain":[0,90],"nice":false},"axis":{"title":"Average EMI SE (dB)","values":[0,10,20,30,40,50,60,70,80],"labelExpr":"datum.value % 20 === 0 ? datum.label : ''","labelFontSize":17,"titleFontSize":22,"minExtent":30,"maxExtent":30,"titlePadding":0}}},
       "layer":[
        {"transform":[{"filter":"datum.type === 'R'"}],"mark":{"type":"bar","stroke":"#555555","strokeWidth":1,"color":{"gradient":"linear","x1":0,"y1":0,"x2":1,"y2":0,"stops":[{"offset":0,"color":"#3A2A20"},{"offset":0.5,"color":"#B08868"},{"offset":1,"color":"#FBD2A8"}]}}},
        {"transform":[{"filter":"datum.type === 'A'"}],"mark":{"type":"bar","stroke":"#555555","strokeWidth":1,"color":{"gradient":"linear","x1":0,"y1":0,"x2":1,"y2":0,"stops":[{"offset":0,"color":"#4A2008"},{"offset":0.4,"color":"#B05A10"},{"offset":1,"color":"#FF8000"}]}}},
        {"transform":[{"filter":"datum.type === 'T'"}],"mark":{"type":"bar","stroke":"#555555","strokeWidth":1,"color":{"gradient":"linear","x1":0,"y1":0,"x2":1,"y2":0,"stops":[{"offset":0,"color":"#062A06"},{"offset":0.4,"color":"#0A600A"},{"offset":1,"color":"#0A8A0A"}]}}},
        {"mark":{"type":"bar","opacity":0},"encoding":{"color":{"field":"type","type":"nominal","scale":{"domain":["R","A","T"],"range":["#C8A080","#E07010","#0A700A"]},"legend":{"title":null,"orient":"none","legendX":127,"legendY":0,"symbolType":"M-1.75,-0.5H1.75V0.5H-1.75Z","symbolSize":400,"labelOffset":13,"labelFontSize":16,"rowPadding":4,"labelExpr":"'SE' + datum.label","encode":{"symbols":{"update":{"opacity":{"value":1},"stroke":{"value":"#333333"},"strokeWidth":{"value":1}}}}}}}},
        {"mark":{"type":"text","angle":270,"align":"left","baseline":"middle","dx":3,"fontSize":16},"encoding":{"text":{"field":"v","type":"quantitative","format":".3f"}}}
       ]}
     ],"spacing":66,"bounds":"flush","resolve":{"scale":{"color":"independent","shape":"independent","xOffset":"independent"},"legend":{"color":"independent","shape":"independent"}}}
   ],"spacing":14,"resolve":{"scale":{"color":"independent","shape":"independent","xOffset":"independent"},"legend":{"color":"independent","shape":"independent"}}}
  ],"spacing":-7,"resolve":{"scale":{"color":"independent","shape":"independent","xOffset":"independent"},"legend":{"color":"independent","shape":"independent"}}}
 ],"spacing":7,"resolve":{"scale":{"color":"independent","shape":"independent","xOffset":"independent"},"legend":{"color":"independent","shape":"independent"}}}
],
"spacing":-4,
"resolve":{"scale":{"color":"independent","shape":"independent","xOffset":"independent"},"legend":{"color":"independent","shape":"independent"}}
}
